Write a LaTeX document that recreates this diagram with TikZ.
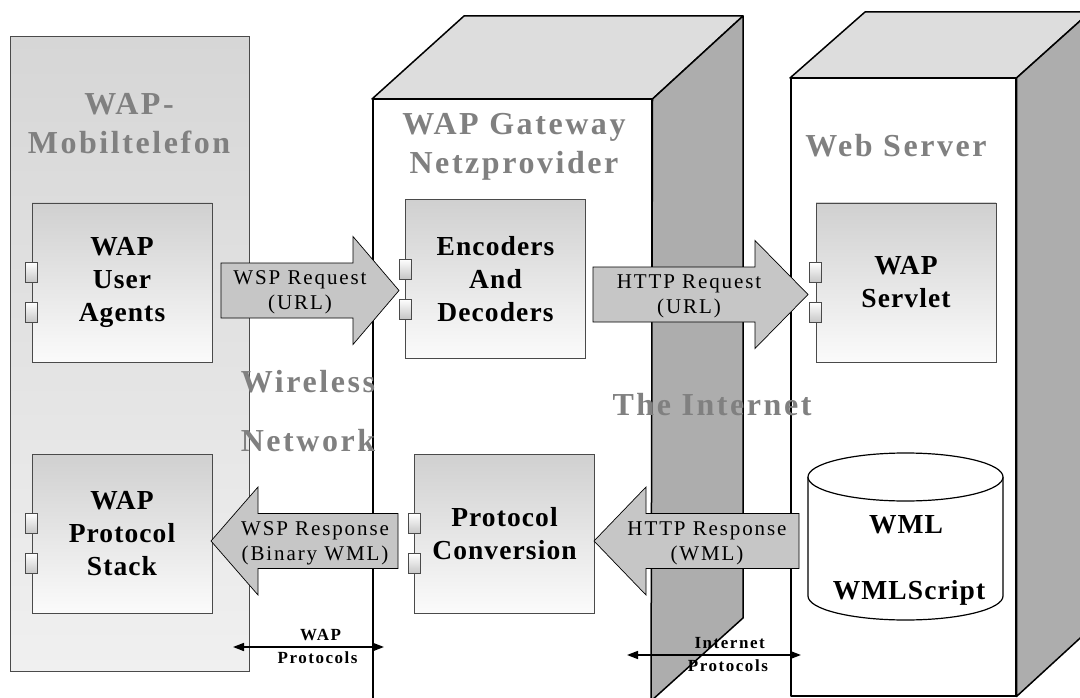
\documentclass[tikz,border=0pt]{standalone}
\usepackage{fontspec}
\setmainfont{Liberation Serif}
\usetikzlibrary{arrows.meta,calc}

\definecolor{phonetop}{HTML}{D6D6D6}
\definecolor{phonebot}{HTML}{F0F0F0}
\definecolor{boxtop}{HTML}{D0D0D0}
\definecolor{boxbot}{HTML}{FBFBFB}
\definecolor{cubetop}{HTML}{DDDDDD}
\definecolor{cubeside}{HTML}{ADADAD}
\definecolor{arrowfill}{HTML}{C6C6C6}
\definecolor{titlegray}{HTML}{808080}
\definecolor{edgegray}{HTML}{4A4A4A}

\begin{document}
\begin{tikzpicture}[x=1pt,y=-1pt,
  cubeline/.style={draw=black, line width=1.5pt, line join=round},
  phonebox/.style={draw=edgegray, line width=0.8pt, shading=axis,
    top color=phonetop, bottom color=phonebot, inner sep=0pt},
  compbox/.style={draw=edgegray, line width=0.9pt, shading=axis,
    top color=boxtop, bottom color=boxbot, inner sep=0pt,
    minimum width=180pt, minimum height=159pt, align=center,
    font=\fontsize{27.5}{33}\selectfont\bfseries\addfontfeature{LetterSpace=4}},
  port/.style={draw=edgegray, line width=0.7pt, shading=axis,
    top color=white, bottom color=gray!45, minimum width=12pt,
    minimum height=20pt, inner sep=0pt},
  barrow/.style={draw=black, line width=0.7pt, fill=arrowfill, line join=miter},
  arrowlabel/.style={align=center, inner sep=0pt,
    font=\fontsize{21}{25}\selectfont\addfontfeature{LetterSpace=9}},
  zonetitle/.style={align=center, inner sep=0pt, text=titlegray,
    font=\fontsize{32}{39}\selectfont\bfseries\addfontfeature{LetterSpace=8}},
  smalllabel/.style={inner sep=0pt,
    font=\fontsize{17}{19}\selectfont\bfseries\addfontfeature{LetterSpace=9}},
  dblarrow/.style={draw=black, line width=1.6pt,
    {Triangle[length=11pt,width=8pt]}-{Triangle[length=11pt,width=8pt]}},
  dbtext/.style={inner sep=0pt,
    font=\fontsize{27.5}{33}\selectfont\bfseries\addfontfeature{LetterSpace=4}}
]
\useasboundingbox (0,0) rectangle (1080,698);
\clip (0,0) rectangle (1080,698);

% mobile phone panel
\node[phonebox, anchor=north west, minimum width=239pt, minimum height=635pt]
  (phone) at (10,36) {};

% gateway cube
\node[cubeline, fill=white, anchor=north west, minimum width=279pt,
  minimum height=620pt, inner sep=0pt] (gwfront) at (372,99) {};
\draw[cubeline, fill=cubetop] (gwfront.north west) -- (464,16) -- (743,16)
  -- (gwfront.north east) -- cycle;
\draw[cubeline, fill=cubeside] (gwfront.north east) -- (743,16) -- (743,618)
  -- (651,701) -- cycle;

% web server cube
\node[cubeline, fill=white, anchor=north west, minimum width=225pt,
  minimum height=617pt, inner sep=0pt] (wsfront) at (790,78) {};
\draw[cubeline, fill=cubetop] (wsfront.north west) -- (865,12) -- (1090,12)
  -- (wsfront.north east) -- cycle;
\draw[cubeline, fill=cubeside] (wsfront.north east) -- (1090,12) -- (1090,629)
  -- (wsfront.south east) -- cycle;

% components
\node[compbox] (ua) at (122,282.5) {WAP\\User\\Agents};
\node[compbox] (stack) at (122,533.5) {WAP\\Protocol\\Stack};
\node[compbox] (codec) at (495.5,279) {Encoders\\And\\Decoders};
\node[compbox] (conv) at (504.5,533.5) {Protocol\\Conversion};
\node[compbox] (servlet) at (906,282.5) {WAP\\Servlet};

% block arrows: tail x, head base x, tip x, centre y
\newcommand\blockarrow[4]{%
  \draw[barrow] (#1,#4-27.5) -- (#2,#4-27.5) -- (#2,#4-54) -- (#3,#4)
    -- (#2,#4+54) -- (#2,#4+27.5) -- (#1,#4+27.5) -- cycle;}
\blockarrow{221}{353}{399}{290.5}
\blockarrow{593}{755}{808}{294.5}
\blockarrow{398}{258}{211}{541}
\blockarrow{799}{646}{594}{541}

\node[arrowlabel] (wspreq) at (300,292) {WSP Request\\(URL)};
\node[arrowlabel] (httpreq) at (689,296) {HTTP Request\\(URL)};
\node[arrowlabel] (wspresp) at (315,543) {WSP Response\\(Binary WML)};
\node[arrowlabel] (httpresp) at (707,543) {HTTP Response\\(WML)};

% interface ports on the left edge of each component
\foreach \c in {ua,stack,codec,conv,servlet}{
  \node[port] (\c-p1) at ($(\c.west)+(0,-10)$) {};
  \node[port] (\c-p2) at ($(\c.west)+(0,30)$) {};
}

% content store
\fill[white] (808,477) -- (808,596)
  arc[start angle=180, end angle=360, x radius=97.5pt, y radius=24pt]
  -- (1003,477) -- cycle;
\draw[line width=1.2pt] (808,477) -- (808,596)
  arc[start angle=180, end angle=360, x radius=97.5pt, y radius=24pt]
  -- (1003,477);
\draw[line width=1.2pt, fill=white] (905.5,477)
  ellipse[x radius=97.5pt, y radius=24pt];
\coordinate (db) at (905.5,548);
\node[dbtext] (wml) at (906,525) {WML};
\node[dbtext] (wmls) at (909,593) {WMLScript};

% zone titles
\node[zonetitle] (phonetitle) at (129,124) {WAP-\\Mobiltelefon};
\node[zonetitle] (gwtitle) at (514,147) {WAP Gateway\\Netzprovider};
\node[zonetitle] (wstitle) at (896,146) {Web Server};
\node[zonetitle] (wireless) at (308,382) {Wireless};
\node[zonetitle] (network) at (308,441) {Network};
\node[zonetitle] (internet) at (712,405) {The Internet};

% protocol spans
\coordinate (wapL) at (233,647);
\coordinate (wapR) at (384,647);
\draw[dblarrow] (wapL) -- (wapR);
\node[smalllabel, anchor=base] (waplbl1) at ($(wapL)!0.58!(wapR)+(0,-7)$) {WAP};
\node[smalllabel, anchor=base] (waplbl2) at ($(wapL)!0.56!(wapR)+(0,16)$) {Protocols};

\coordinate (netL) at (627,655);
\coordinate (netR) at (801,655);
\draw[dblarrow] (netL) -- (netR);
\node[smalllabel, anchor=base] (netlbl1) at ($(netL)!0.59!(netR)+(0,-7)$) {Internet};
\node[smalllabel, anchor=base] (netlbl2) at ($(netL)!0.58!(netR)+(0,16)$) {Protocols};
\end{tikzpicture}
\end{document}
